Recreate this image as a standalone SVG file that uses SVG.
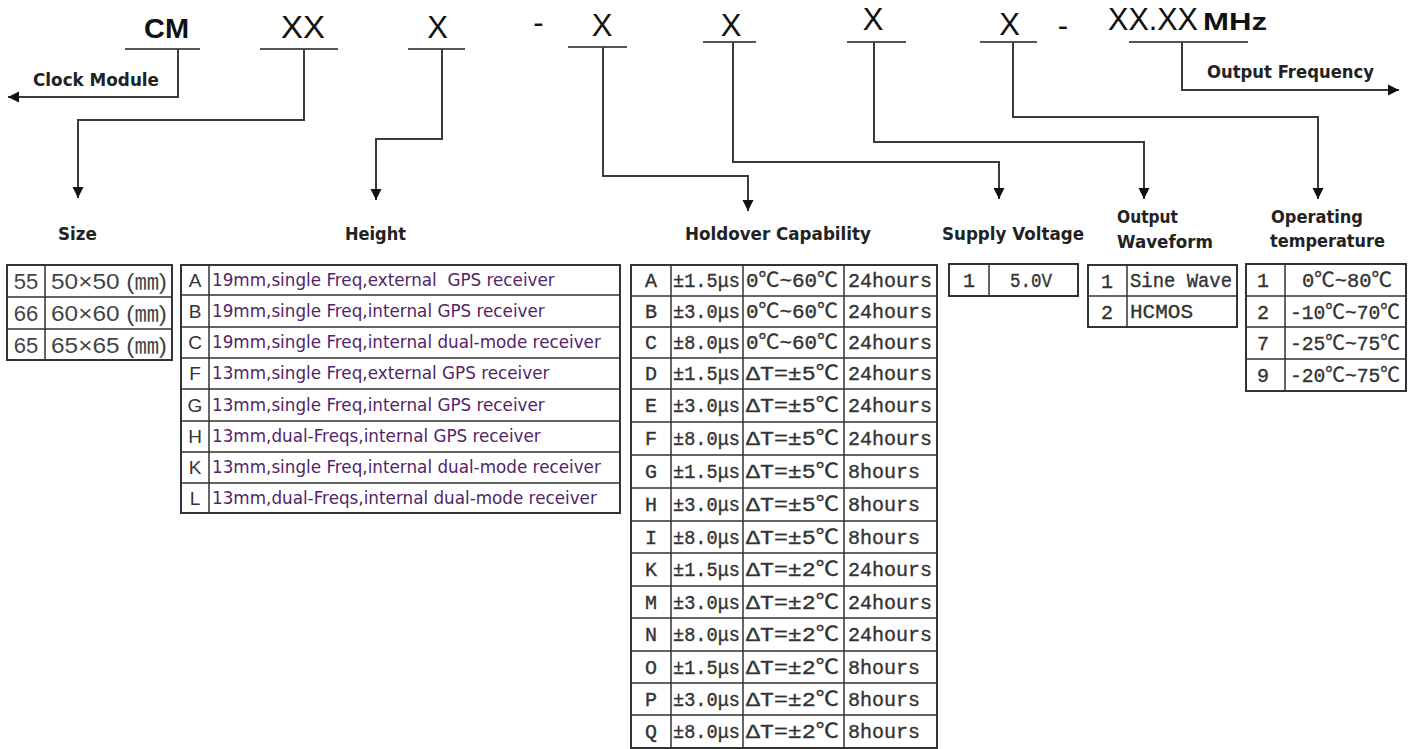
<svg xmlns="http://www.w3.org/2000/svg" width="1411" height="749" viewBox="0 0 1411 749">
<style>
.ln{stroke:#3a3a3a;stroke-width:2;fill:none}
.ul{stroke:#555;stroke-width:2.2}
.tb{fill:#fff;stroke:#333;stroke-width:2}
.gl{stroke:#333;stroke-width:1.5}
.hd{font-family:"DejaVu Sans","Liberation Sans",sans-serif;font-weight:bold;font-size:17px;fill:#222}
.cd{font-family:"Liberation Sans",Arial,sans-serif;font-size:31px;fill:#111}
.cb{font-family:"Liberation Sans",Arial,sans-serif;font-weight:bold;fill:#111}
.mono{font-family:"Liberation Mono","Noto Sans CJK SC",monospace;font-size:20px;fill:#333;stroke:#333;stroke-width:0.35}
.ht{font-family:"DejaVu Sans",sans-serif;font-size:16.8px;fill:#522468}
.lt{font-family:"Liberation Sans",sans-serif;font-size:19px;fill:#333;text-anchor:middle}
.sz{font-family:"Liberation Sans","Noto Sans CJK SC",sans-serif;font-size:22px;fill:#444}
.c{text-anchor:middle}
</style>
<defs>
<marker id="ah" markerUnits="userSpaceOnUse" markerWidth="12" markerHeight="12" viewBox="0 0 12 12" refX="11" refY="6" orient="auto">
<path d="M0,0.5 L11,6 L0,11.5 Z" fill="#111"/>
</marker>
</defs>
<rect width="1411" height="749" fill="#fff"/>

<g id="code">
<text class="cb c" x="166.5" y="38" font-size="28" textLength="45" lengthAdjust="spacingAndGlyphs">CM</text>
<text class="cd c" x="303" y="38" textLength="44" lengthAdjust="spacingAndGlyphs">XX</text>
<text class="cd c" x="437.5" y="38">X</text>
<text class="cd c" x="538.5" y="33">-</text>
<text class="cd c" x="602" y="36">X</text>
<text class="cd c" x="731" y="36">X</text>
<text class="cd c" x="873" y="30">X</text>
<text class="cd c" x="1009.5" y="35">X</text>
<text class="cd c" x="1063" y="36">-</text>
<text class="cd" x="1108" y="30" font-size="24" textLength="90" lengthAdjust="spacingAndGlyphs">XX.XX</text>
<text class="cb" x="1203" y="30" font-size="24" textLength="64" lengthAdjust="spacingAndGlyphs">MHz</text>
<line class="ul" x1="125" y1="49" x2="200" y2="49"/>
<line class="ul" x1="260" y1="49" x2="338" y2="49"/>
<line class="ul" x1="408" y1="49" x2="465" y2="49"/>
<line class="ul" x1="568" y1="47" x2="627" y2="47"/>
<line class="ul" x1="703" y1="42" x2="756" y2="42"/>
<line class="ul" x1="847" y1="42" x2="906" y2="42"/>
<line class="ul" x1="980" y1="42" x2="1037" y2="42"/>
<line class="ul" x1="1129" y1="42" x2="1248" y2="42"/>
</g>

<g id="connectors">
<path class="ln" marker-end="url(#ah)" d="M178,49 V97 H8"/>
<path class="ln" marker-end="url(#ah)" d="M304,49 V120 H78 V198"/>
<path class="ln" marker-end="url(#ah)" d="M442,49 V139 H376 V200"/>
<path class="ln" marker-end="url(#ah)" d="M603,47 V176 H748 V211"/>
<path class="ln" marker-end="url(#ah)" d="M733,42 V162 H999 V199"/>
<path class="ln" marker-end="url(#ah)" d="M874,42 V142 H1144 V199"/>
<path class="ln" marker-end="url(#ah)" d="M1013,42 V117 H1318 V199"/>
<path class="ln" marker-end="url(#ah)" d="M1182,42 V90 H1399"/>
</g>

<g id="clock-module"><text class="hd" x="33" y="86" textLength="126" lengthAdjust="spacingAndGlyphs">Clock Module</text></g>
<g id="output-frequency"><text class="hd" x="1207" y="78" textLength="167" lengthAdjust="spacingAndGlyphs">Output Frequency</text></g>

<g id="size">
<text class="hd" x="58" y="240" textLength="39" lengthAdjust="spacingAndGlyphs">Size</text>
<rect class="tb" x="7" y="265" width="165" height="95"/>
<line class="gl" x1="45" y1="265" x2="45" y2="360"/>
<line class="gl" x1="7" y1="297" x2="172" y2="297"/>
<line class="gl" x1="7" y1="329" x2="172" y2="329"/>
<text class="sz c" x="26" y="289">55</text>
<text class="sz c" x="26" y="321">66</text>
<text class="sz c" x="26" y="353">65</text>
<text class="sz" x="51" y="289" textLength="116" lengthAdjust="spacingAndGlyphs">50×50 (㎜)</text>
<text class="sz" x="51" y="321" textLength="116" lengthAdjust="spacingAndGlyphs">60×60 (㎜)</text>
<text class="sz" x="51" y="353" textLength="116" lengthAdjust="spacingAndGlyphs">65×65 (㎜)</text>
</g>

<g id="height">
<text class="hd" x="345" y="240" textLength="61" lengthAdjust="spacingAndGlyphs">Height</text>
<rect class="tb" x="181" y="265" width="439" height="248"/>
<line class="gl" x1="209" y1="265" x2="209" y2="513"/>
<line class="gl" x1="181" y1="295" x2="620" y2="295"/>
<line class="gl" x1="181" y1="327" x2="620" y2="327"/>
<line class="gl" x1="181" y1="358" x2="620" y2="358"/>
<line class="gl" x1="181" y1="389" x2="620" y2="389"/>
<line class="gl" x1="181" y1="421" x2="620" y2="421"/>
<line class="gl" x1="181" y1="452" x2="620" y2="452"/>
<line class="gl" x1="181" y1="483" x2="620" y2="483"/>
<text class="lt" x="195" y="287">A</text>
<text class="lt" x="195" y="318">B</text>
<text class="lt" x="195" y="349">C</text>
<text class="lt" x="195" y="380">F</text>
<text class="lt" x="195" y="412">G</text>
<text class="lt" x="195" y="443">H</text>
<text class="lt" x="195" y="474">K</text>
<text class="lt" x="195" y="505">L</text>
<text class="ht" x="212" y="286">19mm,single Freq,external&#160; GPS receiver</text>
<text class="ht" x="212" y="317">19mm,single Freq,internal GPS receiver</text>
<text class="ht" x="212" y="348">19mm,single Freq,internal dual-mode receiver</text>
<text class="ht" x="212" y="379">13mm,single Freq,external GPS receiver</text>
<text class="ht" x="212" y="411">13mm,single Freq,internal GPS receiver</text>
<text class="ht" x="212" y="442">13mm,dual-Freqs,internal GPS receiver</text>
<text class="ht" x="212" y="473">13mm,single Freq,internal dual-mode receiver</text>
<text class="ht" x="212" y="504">13mm,dual-Freqs,internal dual-mode receiver</text>
</g>

<g id="holdover">
<text class="hd" x="685" y="240" textLength="186" lengthAdjust="spacingAndGlyphs">Holdover Capability</text>
<rect class="tb" x="631" y="265" width="306" height="483"/>
<line class="gl" x1="671" y1="265" x2="671" y2="748"/>
<line class="gl" x1="743" y1="265" x2="743" y2="748"/>
<line class="gl" x1="844" y1="265" x2="844" y2="748"/>
<line class="gl" x1="631" y1="296" x2="937" y2="296"/>
<line class="gl" x1="631" y1="327" x2="937" y2="327"/>
<line class="gl" x1="631" y1="358" x2="937" y2="358"/>
<line class="gl" x1="631" y1="389" x2="937" y2="389"/>
<line class="gl" x1="631" y1="422" x2="937" y2="422"/>
<line class="gl" x1="631" y1="455" x2="937" y2="455"/>
<line class="gl" x1="631" y1="488" x2="937" y2="488"/>
<line class="gl" x1="631" y1="521" x2="937" y2="521"/>
<line class="gl" x1="631" y1="553" x2="937" y2="553"/>
<line class="gl" x1="631" y1="586" x2="937" y2="586"/>
<line class="gl" x1="631" y1="618" x2="937" y2="618"/>
<line class="gl" x1="631" y1="651" x2="937" y2="651"/>
<line class="gl" x1="631" y1="683" x2="937" y2="683"/>
<line class="gl" x1="631" y1="715" x2="937" y2="715"/>
<g class="mono">
<text class="c" x="651" y="287">A</text>
<text class="c" x="651" y="318">B</text>
<text class="c" x="651" y="349">C</text>
<text class="c" x="651" y="380">D</text>
<text class="c" x="651" y="412">E</text>
<text class="c" x="651" y="445">F</text>
<text class="c" x="651" y="478">G</text>
<text class="c" x="651" y="511">H</text>
<text class="c" x="651" y="544">I</text>
<text class="c" x="651" y="576">K</text>
<text class="c" x="651" y="609">M</text>
<text class="c" x="651" y="641">N</text>
<text class="c" x="651" y="674">O</text>
<text class="c" x="651" y="706">P</text>
<text class="c" x="651" y="738">Q</text>
<text x="673" y="287" textLength="67" lengthAdjust="spacingAndGlyphs">±1.5μs</text>
<text x="673" y="318" textLength="67" lengthAdjust="spacingAndGlyphs">±3.0μs</text>
<text x="673" y="349" textLength="67" lengthAdjust="spacingAndGlyphs">±8.0μs</text>
<text x="673" y="380" textLength="67" lengthAdjust="spacingAndGlyphs">±1.5μs</text>
<text x="673" y="412" textLength="67" lengthAdjust="spacingAndGlyphs">±3.0μs</text>
<text x="673" y="445" textLength="67" lengthAdjust="spacingAndGlyphs">±8.0μs</text>
<text x="673" y="478" textLength="67" lengthAdjust="spacingAndGlyphs">±1.5μs</text>
<text x="673" y="511" textLength="67" lengthAdjust="spacingAndGlyphs">±3.0μs</text>
<text x="673" y="544" textLength="67" lengthAdjust="spacingAndGlyphs">±8.0μs</text>
<text x="673" y="576" textLength="67" lengthAdjust="spacingAndGlyphs">±1.5μs</text>
<text x="673" y="609" textLength="67" lengthAdjust="spacingAndGlyphs">±3.0μs</text>
<text x="673" y="641" textLength="67" lengthAdjust="spacingAndGlyphs">±8.0μs</text>
<text x="673" y="674" textLength="67" lengthAdjust="spacingAndGlyphs">±1.5μs</text>
<text x="673" y="706" textLength="67" lengthAdjust="spacingAndGlyphs">±3.0μs</text>
<text x="673" y="738" textLength="67" lengthAdjust="spacingAndGlyphs">±8.0μs</text>
<text x="746" y="287" textLength="92" lengthAdjust="spacingAndGlyphs">0℃~60℃</text>
<text x="746" y="318" textLength="92" lengthAdjust="spacingAndGlyphs">0℃~60℃</text>
<text x="746" y="349" textLength="92" lengthAdjust="spacingAndGlyphs">0℃~60℃</text>
<text x="746" y="380" textLength="93" lengthAdjust="spacingAndGlyphs">ΔT=±5℃</text>
<text x="746" y="412" textLength="93" lengthAdjust="spacingAndGlyphs">ΔT=±5℃</text>
<text x="746" y="445" textLength="93" lengthAdjust="spacingAndGlyphs">ΔT=±5℃</text>
<text x="746" y="478" textLength="93" lengthAdjust="spacingAndGlyphs">ΔT=±5℃</text>
<text x="746" y="511" textLength="93" lengthAdjust="spacingAndGlyphs">ΔT=±5℃</text>
<text x="746" y="544" textLength="93" lengthAdjust="spacingAndGlyphs">ΔT=±5℃</text>
<text x="746" y="576" textLength="93" lengthAdjust="spacingAndGlyphs">ΔT=±2℃</text>
<text x="746" y="609" textLength="93" lengthAdjust="spacingAndGlyphs">ΔT=±2℃</text>
<text x="746" y="641" textLength="93" lengthAdjust="spacingAndGlyphs">ΔT=±2℃</text>
<text x="746" y="674" textLength="93" lengthAdjust="spacingAndGlyphs">ΔT=±2℃</text>
<text x="746" y="706" textLength="93" lengthAdjust="spacingAndGlyphs">ΔT=±2℃</text>
<text x="746" y="738" textLength="93" lengthAdjust="spacingAndGlyphs">ΔT=±2℃</text>
<text x="848" y="287" textLength="84" lengthAdjust="spacingAndGlyphs">24hours</text>
<text x="848" y="318" textLength="84" lengthAdjust="spacingAndGlyphs">24hours</text>
<text x="848" y="349" textLength="84" lengthAdjust="spacingAndGlyphs">24hours</text>
<text x="848" y="380" textLength="84" lengthAdjust="spacingAndGlyphs">24hours</text>
<text x="848" y="412" textLength="84" lengthAdjust="spacingAndGlyphs">24hours</text>
<text x="848" y="445" textLength="84" lengthAdjust="spacingAndGlyphs">24hours</text>
<text x="848" y="478" textLength="72" lengthAdjust="spacingAndGlyphs">8hours</text>
<text x="848" y="511" textLength="72" lengthAdjust="spacingAndGlyphs">8hours</text>
<text x="848" y="544" textLength="72" lengthAdjust="spacingAndGlyphs">8hours</text>
<text x="848" y="576" textLength="84" lengthAdjust="spacingAndGlyphs">24hours</text>
<text x="848" y="609" textLength="84" lengthAdjust="spacingAndGlyphs">24hours</text>
<text x="848" y="641" textLength="84" lengthAdjust="spacingAndGlyphs">24hours</text>
<text x="848" y="674" textLength="72" lengthAdjust="spacingAndGlyphs">8hours</text>
<text x="848" y="706" textLength="72" lengthAdjust="spacingAndGlyphs">8hours</text>
<text x="848" y="738" textLength="72" lengthAdjust="spacingAndGlyphs">8hours</text>
</g>
</g>

<g id="supply-voltage">
<text class="hd" x="942" y="240" textLength="142" lengthAdjust="spacingAndGlyphs">Supply Voltage</text>
<rect class="tb" x="949" y="264" width="129" height="32"/>
<line class="gl" x1="989" y1="264" x2="989" y2="296"/>
<text class="mono c" x="969" y="287">1</text>
<text class="mono c" x="1031" y="287" textLength="42" lengthAdjust="spacingAndGlyphs">5.0V</text>
</g>

<g id="output-waveform">
<text class="hd" x="1117" y="223" textLength="61" lengthAdjust="spacingAndGlyphs">Output</text>
<text class="hd" x="1117" y="248" textLength="96" lengthAdjust="spacingAndGlyphs">Waveform</text>
<rect class="tb" x="1088" y="265" width="149" height="62"/>
<line class="gl" x1="1127" y1="265" x2="1127" y2="327"/>
<line class="gl" x1="1088" y1="296" x2="1237" y2="296"/>
<text class="mono c" x="1107" y="288">1</text>
<text class="mono c" x="1107" y="319">2</text>
<text class="mono" x="1130" y="287" textLength="102" lengthAdjust="spacingAndGlyphs">Sine Wave</text>
<text class="mono" x="1130" y="318" textLength="63" lengthAdjust="spacingAndGlyphs">HCMOS</text>
</g>

<g id="operating-temperature">
<text class="hd" x="1271" y="223" textLength="92" lengthAdjust="spacingAndGlyphs">Operating</text>
<text class="hd" x="1270" y="247" textLength="115" lengthAdjust="spacingAndGlyphs">temperature</text>
<rect class="tb" x="1246" y="264" width="160" height="127"/>
<line class="gl" x1="1285" y1="264" x2="1285" y2="391"/>
<line class="gl" x1="1246" y1="296" x2="1406" y2="296"/>
<line class="gl" x1="1246" y1="327" x2="1406" y2="327"/>
<line class="gl" x1="1246" y1="359" x2="1406" y2="359"/>
<text class="mono c" x="1263" y="287">1</text>
<text class="mono c" x="1263" y="319">2</text>
<text class="mono c" x="1263" y="350">7</text>
<text class="mono c" x="1263" y="382">9</text>
<text class="mono" x="1302" y="287" textLength="90" lengthAdjust="spacingAndGlyphs">0℃~80℃</text>
<text class="mono" x="1290" y="319" textLength="110" lengthAdjust="spacingAndGlyphs">-10℃~70℃</text>
<text class="mono" x="1290" y="350" textLength="110" lengthAdjust="spacingAndGlyphs">-25℃~75℃</text>
<text class="mono" x="1290" y="382" textLength="110" lengthAdjust="spacingAndGlyphs">-20℃~75℃</text>
</g>
</svg>
